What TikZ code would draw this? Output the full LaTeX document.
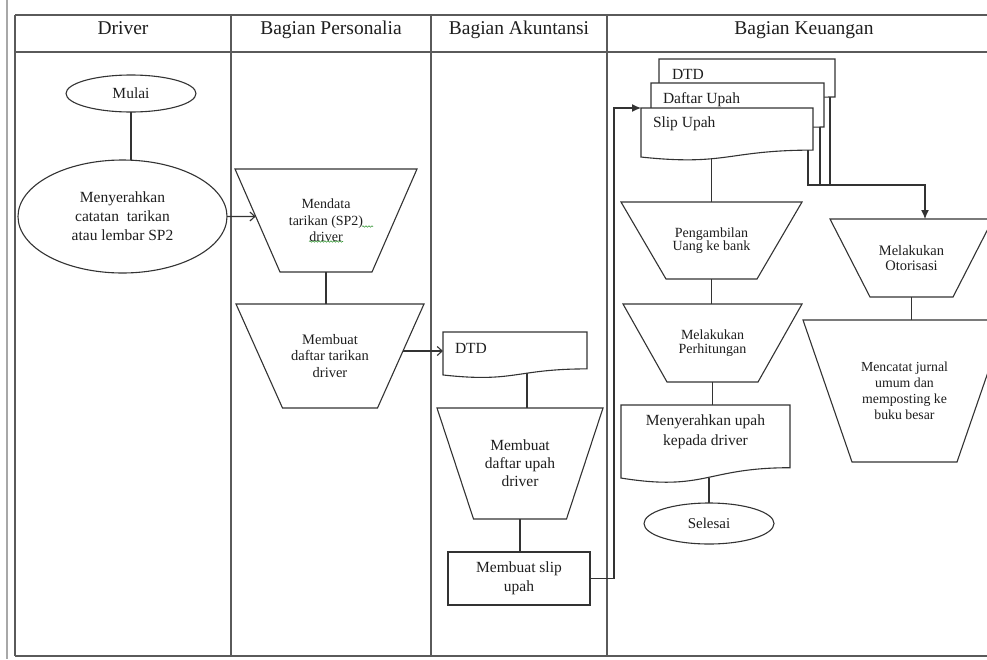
\documentclass[tikz,border=0pt]{standalone}
\usepackage{fontspec}
\setmainfont{Liberation Serif}
\usetikzlibrary{arrows.meta,calc,shapes.geometric,decorations.pathmorphing}
\definecolor{ink}{HTML}{1E1E1E}
\definecolor{edge}{HTML}{333333}
\definecolor{grid}{HTML}{5A5A5A}
\definecolor{pagel}{HTML}{A8A8A8}
\definecolor{squig}{HTML}{3C9A3C}
\newcommand\fsz[2]{\fontsize{#1}{#2}\selectfont}
\newcommand\trapdraw[2]{\draw[ln] (#1.north west) -- (#1.north east) -- ([xshift=-#2pt]#1.south east) -- ([xshift=#2pt]#1.south west) -- cycle;}
\newcommand\docdraw[1]{%
  \draw[ln,fill=white] (#1.north west) -- (#1.north east)
    -- ($(#1.north east)!0.802!(#1.south east)$)
    .. controls ($(#1.north)!0.802!(#1.south)$) and ($(#1.north)!1.1075!(#1.south)$)
    .. ($(#1.north west)!0.934!(#1.south west)$) -- cycle;}
\begin{document}
\begin{tikzpicture}[x=1pt,y=-1pt,
  ln/.style={draw=edge,line width=1.1pt},
  tbl/.style={draw=grid,line width=1.6pt},
  box/.style={inner sep=0pt,outer sep=0pt,text=ink,align=center},
  hdr/.style={text=ink,anchor=base,font=\fsz{19.5}{22}},
  openarr/.style={-{Straight Barb[length=5pt,width=9pt]}},
  fillarr/.style={-{Latex[length=9pt,width=8pt]}},
  doctext/.style={box,anchor=north west,font=\fsz{15.5}{19}}
]
\useasboundingbox (0,0) rectangle (987,659);
\clip (0,0) rectangle (987,659);
\fill[white] (0,0) rectangle (987,659);

% page margin line and swimlane table
\draw[draw=pagel,line width=2pt] (7,0) -- (7,659);
\draw[tbl] (15,15) -- (995,15);
\draw[tbl] (15,52) -- (995,52);
\draw[tbl] (15,656) -- (995,656);
\foreach \x in {15,231,431,607} \draw[tbl] (\x,15) -- (\x,656);

% headers
\node[hdr] (h1) at (123,34.3) {Driver};
\node[hdr] (h2) at (331,34.3) {Bagian Personalia};
\node[hdr] (h3) at (519,34.3) {Bagian Akuntansi};
\node[hdr] (h4) at (804,34.3) {Bagian Keuangan};

% Driver lane
\node[box,ellipse,ln,fill=white,minimum width=130pt,minimum height=37pt,font=\fsz{15.5}{19}] (mulai) at (131,93.5) {Mulai};
\node[box,ellipse,ln,fill=white,minimum width=209pt,minimum height=113pt,font=\fsz{15.5}{19}] (menyer) at (122.5,216.5) {Menyerahkan\\catatan\ \ tarikan\\atau lembar SP2};

% Personalia lane
\node[box,minimum width=182pt,minimum height=103pt,font=\fsz{14}{16.5}] (mendata) at (326,220.5) {Mendata\\tarikan (SP2)\\driver};
\trapdraw{mendata}{45}
\draw[draw=squig,line width=0.6pt,decorate,decoration={snake,amplitude=0.7pt,segment length=3pt}] ($(mendata.center)+(-17,21)$) -- ($(mendata.center)+(17,21)$);
\draw[draw=squig,line width=0.6pt,decorate,decoration={snake,amplitude=0.7pt,segment length=3pt}] ($(mendata.center)+(36,6)$) -- ($(mendata.center)+(47,6)$);
\node[box,minimum width=188pt,minimum height=104pt,font=\fsz{14.5}{16.5}] (dtarikan) at (330,356) {Membuat\\daftar tarikan\\driver};
\trapdraw{dtarikan}{46.5}

% Akuntansi lane
\node[box,minimum width=144pt,minimum height=46pt] (dtd1) at (515,355) {};
\docdraw{dtd1}
\node[doctext] (dtd1t) at ($(dtd1.north west)+(12,11)$) {DTD};
\node[box,minimum width=166pt,minimum height=111pt,font=\fsz{15.5}{18}] (dupah) at (520,463.5) {Membuat\\daftar upah\\driver};
\trapdraw{dupah}{36.5}
\node[box,ln,minimum width=142pt,minimum height=53pt,font=\fsz{15.5}{19}] (sliprect) at (519,578.5) {Membuat slip\\upah};

% Keuangan lane: stacked documents
\node[box,minimum width=176pt,minimum height=47.4pt] (dtdk) at (747,82.7) {};
\docdraw{dtdk}
\node[doctext] (dtdkt) at ($(dtdk.north west)+(13,10)$) {DTD};
\node[box,minimum width=173pt,minimum height=54.9pt] (daftar) at (737.5,110.45) {};
\docdraw{daftar}
\node[doctext] (daftart) at ($(daftar.north west)+(12,10)$) {Daftar Upah};
\node[box,minimum width=172pt,minimum height=52.5pt] (slip) at (727,134.25) {};
\docdraw{slip}
\node[doctext] (slipt) at ($(slip.north west)+(12,9)$) {Slip Upah};

\node[box,minimum width=181pt,minimum height=77pt,font=\fsz{14}{13.5}] (peng) at (711.5,240.5) {Pengambilan\\Uang ke bank};
\trapdraw{peng}{45}
\node[box,minimum width=179pt,minimum height=78pt,font=\fsz{14}{13.5}] (perh) at (712.5,343) {Melakukan\\Perhitungan};
\trapdraw{perh}{44}
\node[box,minimum width=169pt,minimum height=78.2pt] (upahdoc) at (705.5,444.1) {};
\docdraw{upahdoc}
\node[box,anchor=north,font=\fsz{15.5}{20}] (upaht) at ($(upahdoc.north)+(0,10)$) {Menyerahkan upah\\kepada driver};
\node[box,ellipse,ln,fill=white,minimum width=130pt,minimum height=41pt,font=\fsz{15}{19}] (selesai) at (709,523.5) {Selesai};

\node[box,minimum width=163pt,minimum height=78pt,font=\fsz{14.5}{15}] (otor) at (911.5,258) {Melakukan\\Otorisasi};
\trapdraw{otor}{40}
\node[box,minimum width=203pt,minimum height=142pt,font=\fsz{13.8}{16}] (mencatat) at (904.5,391) {Mencatat jurnal\\umum dan\\memposting ke\\buku besar};
\trapdraw{mencatat}{49}

% connectors
\draw[ln] (mulai.south) -- (mulai.south |- menyer.north);
\coordinate (mendataL) at ($(mendata.north west)!0.461!(mendata.south west)+(20.7,0)$);
\draw[ln,openarr] (menyer.east) -- (mendataL);
\draw[ln] (mendata.south) -- (mendata.south |- dtarikan.north);
\coordinate (dtR) at ($(dtarikan.north east)!0.452!(dtarikan.south east)+(-21,0)$);
\draw[ln,openarr] (dtR) -- (dtR -| dtd1.west);
\coordinate (dtd1b) at ($(dtd1.north)!0.9!(dtd1.south)+(12,0)$);
\draw[ln] (dtd1b) -- (dtd1b |- dupah.north);
\draw[ln] (dupah.south) -- (dupah.south |- sliprect.north);
\draw[ln,fillarr] (sliprect.east) -- ++(24,0) |- (slip.north west);

\coordinate (slipb) at ($(slip.north)!0.96!(slip.south)$);
\draw[ln] (peng.north |- slipb) -- (peng.north);
\draw[ln] (peng.south) -- (peng.south |- perh.north);
\draw[ln] (perh.south) -- (perh.south |- upahdoc.north);
\coordinate (updb) at ($(upahdoc.north)!0.93!(upahdoc.south)$);
\draw[ln] (selesai.north |- updb) -- (selesai.north);

\coordinate (junc) at (925,185);
\coordinate (s1) at ($(slip.north east)!0.805!(slip.south east)+(-5,0)$);
\coordinate (s2) at ($(daftar.north east)!0.805!(daftar.south east)+(-4,0)$);
\coordinate (s3) at ($(dtdk.north east)!0.805!(dtdk.south east)+(-5,0)$);
\draw[ln] (s2) -- (s2 |- junc);
\draw[ln] (s3) -- (s3 |- junc);
\draw[ln,fillarr] (s1) |- (junc) -- (junc |- otor.north);
\draw[ln] (otor.south) -- (otor.south |- mencatat.north);
\end{tikzpicture}
\end{document}
